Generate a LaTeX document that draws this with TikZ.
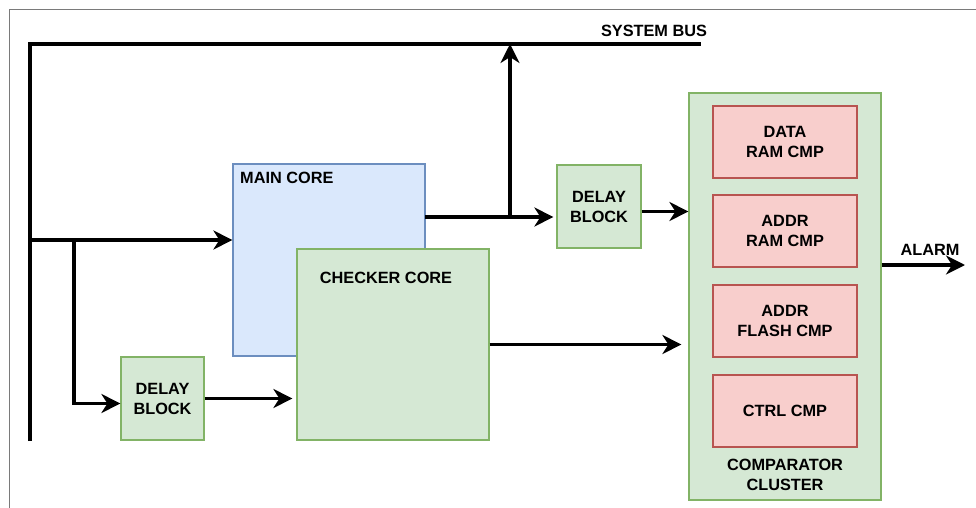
\documentclass[tikz,border=0pt]{standalone}
\usepackage{fontspec}
\setmainfont{Liberation Sans}
\usepackage{tikz}
\definecolor{bleufond}{HTML}{DAE8FC}
\definecolor{bleutrait}{HTML}{6C8EBF}
\definecolor{vertfond}{HTML}{D5E8D4}
\definecolor{verttrait}{HTML}{82B366}
\definecolor{rosefond}{HTML}{F8CECC}
\definecolor{rosetrait}{HTML}{B85450}
\definecolor{cadre}{HTML}{7A7A7A}
\usetikzlibrary{shapes,calc,arrows.meta}

\begin{document}
\begin{tikzpicture}[x=1pt,y=-1pt,
  txt/.style={font=\fontsize{16.3}{20}\selectfont\bfseries,align=center,inner sep=0pt},
  bloc/.style={rectangle,line width=1.2pt,inner sep=0pt},
  vert/.style={bloc,fill=vertfond,draw=verttrait},
  cmp/.style={bloc,fill=rosefond,draw=rosetrait,minimum width=144pt,minimum height=72pt},
  bus/.style={line width=3.2pt},
  fleche/.style={line width=3.2pt,-{Stealth[length=19pt,width=19pt,inset=6pt]}}]

  \useasboundingbox (0,0) rectangle (976,508);

  \draw[cadre,line width=1pt] (9,508) -- (9,10) -- (976,10);

  \coordinate (bushaut) at (30,44);
  \coordinate (busfin) at (701,44);
  \coordinate (busbas) at (30,441);
  \draw[bus] (busbas) -- (bushaut) -- (busfin);
  \node[txt,anchor=base] (buslbl) at (654,37) {SYSTEM BUS};

  \node[
    bloc,
    minimum width=192pt,
    minimum height=192pt,
    fill=bleufond,
    draw=bleutrait] at (329,260) (main) {};

  \node[txt,anchor=base west] (mainlbl) at (240,183) {MAIN CORE};

  \node[
    vert,
    minimum width=192pt,
    minimum height=191pt] at (393,344.5) (chk) {};

  \node[txt,anchor=base] (chklbl) at (386,283) {CHECKER CORE};

  \node[
    vert,
    minimum width=83pt,
    minimum height=83pt] at (162.5,398.5) (dly1) {};

  \node[txt] at (dly1.center) (dly1lbl) {DELAY\\BLOCK};

  \node[
    vert,
    minimum width=84pt,
    minimum height=83pt] at (599,206.5) (dly2) {};

  \node[txt] at (dly2.center) (dly2lbl) {DELAY\\BLOCK};

  \node[
    vert,
    minimum width=192pt,
    minimum height=407pt] at (785,296.5) (clu) {};

  \node[txt] at (785,475) (clulbl) {COMPARATOR\\CLUSTER};

  \node[cmp] at (785,142) (cmpdata) {};
  \node[txt] at (cmpdata.center) {DATA\\RAM CMP};

  \node[cmp] at (785,231) (cmpaddr) {};
  \node[txt] at (cmpaddr.center) {ADDR\\RAM CMP};

  \node[cmp] at (785,321) (cmpflash) {};
  \node[txt] at (cmpflash.center) {ADDR\\FLASH CMP};

  \node[cmp] at (785,411) (cmpctrl) {};
  \node[txt] at (cmpctrl.center) {CTRL CMP};

  \coordinate (tap1) at (30,240);
  \coordinate (tap2) at (74,240);
  \draw[fleche] (tap1) -- (tap1 -| main.west);
  \draw[fleche] (tap2) |- ([yshift=-5pt]dly1.west);

  \draw[fleche] (dly1.east) -- ([xshift=-4pt]dly1.east -| chk.west);

  \coordinate (mout) at (425,217);
  \coordinate (jn) at (510,217);
  \draw[fleche] (mout) -- ([xshift=-3pt]mout -| dly2.west);
  \draw[fleche] (jn) -- (jn |- busfin);

  \draw[fleche] ([yshift=-5pt]dly2.east) -- ([yshift=-5pt]dly2.east -| clu.west);

  \draw[fleche] (chk.east) -- ([xshift=-7pt]chk.east -| clu.west);

  \coordinate (alarm) at (965,265);
  \draw[fleche] (clu.east |- alarm) -- (alarm);
  \node[txt,anchor=base] (alarmlbl) at (930,255) {ALARM};

\end{tikzpicture}
\end{document}
